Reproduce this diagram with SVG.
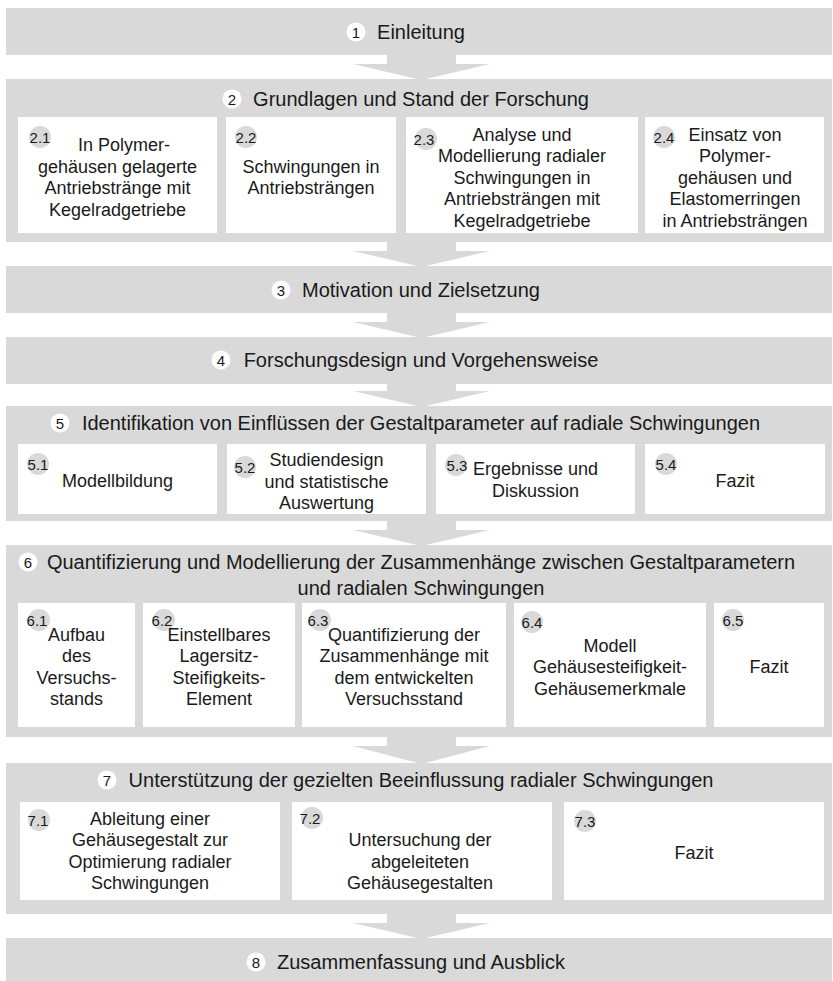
<svg xmlns="http://www.w3.org/2000/svg" width="833" height="981" viewBox="0 0 833 981">
<style>
.bg{fill:#ffffff}
.band{fill:#d9d9d9}
.box{fill:#ffffff}
.badge{fill:#d9d9d9}
.tc{fill:#ffffff}
.arr{fill:#d9d9d9}
text{font-family:"Liberation Sans",Arial,Helvetica,sans-serif;fill:#1a1a1a;text-anchor:middle}
.t{font-size:18px}
.h{font-size:20px}
.n{font-size:15px}
</style>
<rect class="bg" x="0" y="0" width="833" height="981"/>
<g id="connectors">
<path class="arr" d="M387,55 H456 V64 H490 L421.5,80 L353,64 H387 Z"/>
<path class="arr" d="M387,242 H456 V251 H490 L421.5,267 L353,251 H387 Z"/>
<path class="arr" d="M387,313 H456 V322 H490 L421.5,338 L353,322 H387 Z"/>
<path class="arr" d="M387,384 H456 V391 H490 L421.5,407 L353,391 H387 Z"/>
<path class="arr" d="M387,521 H456 V530 H490 L421.5,546 L353,530 H387 Z"/>
<path class="arr" d="M387,737 H456 V746 H490 L421.5,764 L353,746 H387 Z"/>
<path class="arr" d="M387,914 H456 V923 H490 L421.5,939 L353,923 H387 Z"/>
</g>
<g id="ch1">
<rect class="band" x="6" y="8" width="826" height="47"/>
<circle class="tc" cx="356" cy="32" r="9.5"/><text class="n" x="356" y="37.5">1</text>
<text class="h" x="421" y="39">Einleitung</text>
</g>
<g id="ch2">
<rect class="band" x="6" y="79" width="826" height="163"/>
<circle class="tc" cx="232" cy="99" r="9.5"/><text class="n" x="232" y="104.5">2</text>
<text class="h" x="421" y="106">Grundlagen und Stand der Forschung</text>
</g>
<g id="n2_1">
<rect class="box" x="18" y="117" width="199" height="116"/>
<circle class="badge" cx="40" cy="137" r="11"/><text class="n" x="40" y="142.5">2.1</text>
<text class="t" x="117.5"><tspan x="124" y="151">In Polymer-</tspan><tspan x="117.5" y="172.5">gehäusen gelagerte</tspan><tspan x="117.5" y="194">Antriebstränge mit</tspan><tspan x="117.5" y="215.5">Kegelradgetriebe</tspan></text>
</g>
<g id="n2_2">
<rect class="box" x="226" y="117" width="170" height="116"/>
<circle class="badge" cx="246" cy="137" r="11"/><text class="n" x="246" y="142.5">2.2</text>
<text class="t"><tspan x="311" y="172.5">Schwingungen in</tspan><tspan x="311" y="194">Antriebsträngen</tspan></text>
</g>
<g id="n2_3">
<rect class="box" x="406" y="117" width="232" height="116"/>
<circle class="badge" cx="426" cy="139" r="11"/><text class="n" x="424" y="145">2.3</text>
<text class="t"><tspan x="522" y="140.5">Analyse und</tspan><tspan x="522" y="162">Modellierung radialer</tspan><tspan x="522" y="183.5">Schwingungen in</tspan><tspan x="522" y="205">Antriebsträngen mit</tspan><tspan x="522" y="226.5">Kegelradgetriebe</tspan></text>
</g>
<g id="n2_4">
<rect class="box" x="645" y="117" width="179" height="116"/>
<circle class="badge" cx="664" cy="137" r="11"/><text class="n" x="664" y="142.5">2.4</text>
<text class="t"><tspan x="735" y="140.5">Einsatz von</tspan><tspan x="735" y="162">Polymer-</tspan><tspan x="735" y="183.5">gehäusen und</tspan><tspan x="735" y="205">Elastomerringen</tspan><tspan x="735" y="226.5">in Antriebsträngen</tspan></text>
</g>
<g id="ch3">
<rect class="band" x="6" y="266" width="826" height="47"/>
<circle class="tc" cx="281" cy="290" r="9.5"/><text class="n" x="281" y="295.5">3</text>
<text class="h" x="421" y="297">Motivation und Zielsetzung</text>
</g>
<g id="ch4">
<rect class="band" x="6" y="337" width="826" height="47"/>
<circle class="tc" cx="221" cy="360" r="9.5"/><text class="n" x="221" y="365.5">4</text>
<text class="h" x="421" y="367">Forschungsdesign und Vorgehensweise</text>
</g>
<g id="ch5">
<rect class="band" x="6" y="406" width="826" height="115"/>
<circle class="tc" cx="60" cy="423" r="9.5"/><text class="n" x="60" y="428.5">5</text>
<text class="h" x="421" y="430">Identifikation von Einflüssen der Gestaltparameter auf radiale Schwingungen</text>
</g>
<g id="n5_1">
<rect class="box" x="18" y="444" width="199" height="70"/>
<circle class="badge" cx="38" cy="464" r="11"/><text class="n" x="38" y="469.5">5.1</text>
<text class="t" x="117.5" y="486.5">Modellbildung</text>
</g>
<g id="n5_2">
<rect class="box" x="227" y="444" width="199" height="70"/>
<circle class="badge" cx="245" cy="467" r="11"/><text class="n" x="245" y="472.5">5.2</text>
<text class="t"><tspan x="326.5" y="466">Studiendesign</tspan><tspan x="326.5" y="487.5">und statistische</tspan><tspan x="326.5" y="509">Auswertung</tspan></text>
</g>
<g id="n5_3">
<rect class="box" x="436" y="444" width="199" height="70"/>
<circle class="badge" cx="456" cy="465" r="11"/><text class="n" x="457" y="471">5.3</text>
<text class="t"><tspan x="535.5" y="475">Ergebnisse und</tspan><tspan x="535.5" y="496.5">Diskussion</tspan></text>
</g>
<g id="n5_4">
<rect class="box" x="645" y="444" width="180" height="70"/>
<circle class="badge" cx="666" cy="464" r="11"/><text class="n" x="666" y="469.5">5.4</text>
<text class="t" x="735" y="486.5">Fazit</text>
</g>
<g id="ch6">
<rect class="band" x="6" y="545" width="826" height="192"/>
<circle class="tc" cx="28" cy="562" r="9.5"/><text class="n" x="28" y="567.5">6</text>
<text class="h"><tspan x="421" y="569">Quantifizierung und Modellierung der Zusammenhänge zwischen Gestaltparametern</tspan><tspan x="421" y="595">und radialen Schwingungen</tspan></text>
</g>
<g id="n6_1">
<rect class="box" x="18" y="603" width="117" height="124"/>
<circle class="badge" cx="39" cy="620" r="11"/><text class="n" x="37" y="626">6.1</text>
<text class="t"><tspan x="76.5" y="640.5">Aufbau</tspan><tspan x="76.5" y="662">des</tspan><tspan x="76.5" y="683.5">Versuchs-</tspan><tspan x="76.5" y="705">stands</tspan></text>
</g>
<g id="n6_2">
<rect class="box" x="143" y="603" width="152" height="124"/>
<circle class="badge" cx="164" cy="620" r="11"/><text class="n" x="162" y="626">6.2</text>
<text class="t"><tspan x="219" y="640.5">Einstellbares</tspan><tspan x="219" y="662">Lagersitz-</tspan><tspan x="219" y="683.5">Steifigkeits-</tspan><tspan x="219" y="705">Element</tspan></text>
</g>
<g id="n6_3">
<rect class="box" x="302" y="603" width="204" height="124"/>
<circle class="badge" cx="320" cy="620" r="11"/><text class="n" x="318" y="626">6.3</text>
<text class="t"><tspan x="404" y="640.5">Quantifizierung der</tspan><tspan x="404" y="662">Zusammenhänge mit</tspan><tspan x="404" y="683.5">dem entwickelten</tspan><tspan x="404" y="705">Versuchsstand</tspan></text>
</g>
<g id="n6_4">
<rect class="box" x="514" y="603" width="192" height="124"/>
<circle class="badge" cx="532" cy="622" r="11"/><text class="n" x="532" y="627.5">6.4</text>
<text class="t"><tspan x="610" y="651.5">Modell</tspan><tspan x="610" y="673">Gehäusesteifigkeit-</tspan><tspan x="610" y="694.5">Gehäusemerkmale</tspan></text>
</g>
<g id="n6_5">
<rect class="box" x="714" y="603" width="110" height="124"/>
<circle class="badge" cx="733" cy="620" r="11"/><text class="n" x="733" y="625.5">6.5</text>
<text class="t" x="769" y="673">Fazit</text>
</g>
<g id="ch7">
<rect class="band" x="6" y="763" width="826" height="151"/>
<circle class="tc" cx="107" cy="780" r="9.5"/><text class="n" x="107" y="785.5">7</text>
<text class="h" x="421" y="787">Unterstützung der gezielten Beeinflussung radialer Schwingungen</text>
</g>
<g id="n7_1">
<rect class="box" x="20" y="802" width="260" height="98"/>
<circle class="badge" cx="39" cy="820" r="11"/><text class="n" x="38" y="825.5">7.1</text>
<text class="t"><tspan x="150" y="824.5">Ableitung einer</tspan><tspan x="150" y="846">Gehäusegestalt zur</tspan><tspan x="150" y="867.5">Optimierung radialer</tspan><tspan x="150" y="889">Schwingungen</tspan></text>
</g>
<g id="n7_2">
<rect class="box" x="292" y="802" width="260" height="98"/>
<circle class="badge" cx="312" cy="818" r="11"/><text class="n" x="310" y="823.5">7.2</text>
<text class="t"><tspan x="420" y="846">Untersuchung der</tspan><tspan x="420" y="867.5">abgeleiteten</tspan><tspan x="420" y="889">Gehäusegestalten</tspan></text>
</g>
<g id="n7_3">
<rect class="box" x="564" y="802" width="260" height="98"/>
<circle class="badge" cx="585" cy="821" r="11"/><text class="n" x="585" y="826.5">7.3</text>
<text class="t" x="694" y="859">Fazit</text>
</g>
<g id="ch8">
<rect class="band" x="6" y="938" width="826" height="43"/>
<circle class="tc" cx="256" cy="962" r="9.5"/><text class="n" x="256" y="967.5">8</text>
<text class="h" x="421" y="969">Zusammenfassung und Ausblick</text>
</g>
</svg>
